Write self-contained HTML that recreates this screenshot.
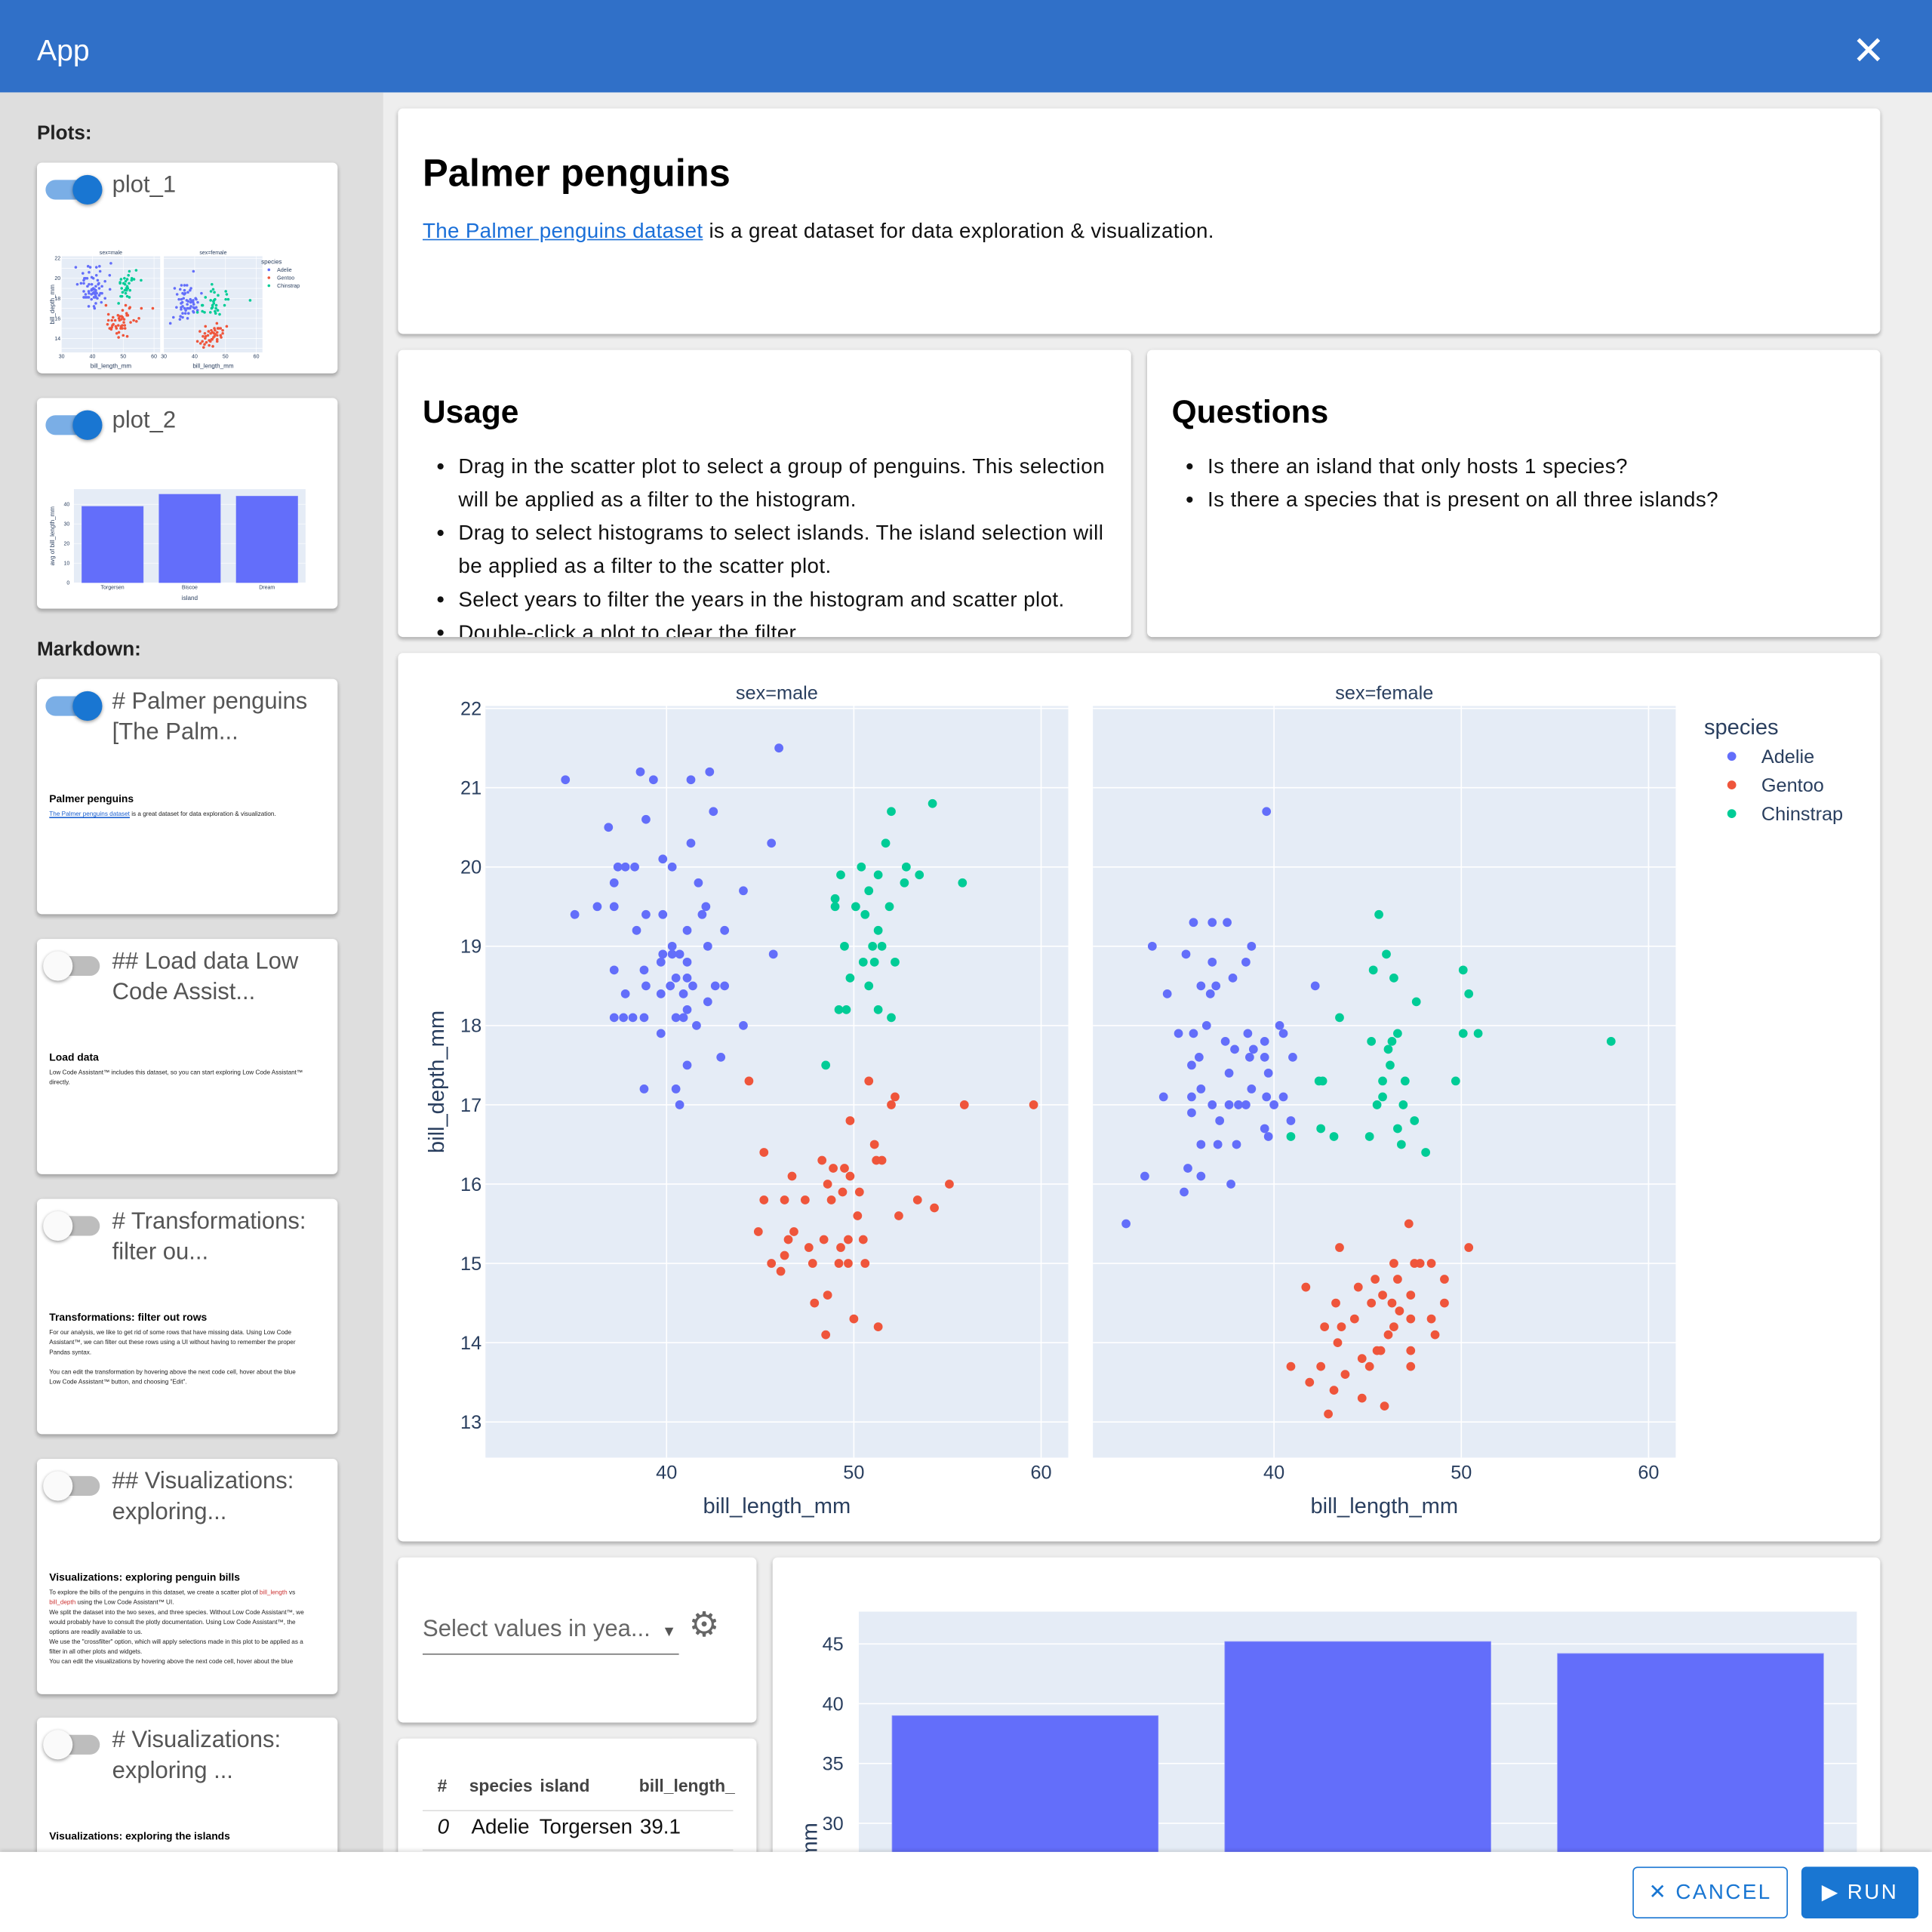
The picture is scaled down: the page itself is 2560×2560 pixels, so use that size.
<!DOCTYPE html>
<html><head><meta charset="utf-8">
<style>
html,body{margin:0;padding:0;width:2560px;height:2560px;overflow:hidden;background:#eee;}
#root{position:absolute;left:0;top:0;width:1568px;height:1568px;transform:scale(1.632653);transform-origin:0 0;font-family:"Liberation Sans",sans-serif;background:#eeeeee;overflow:hidden;}
.abs{position:absolute;}
.card{position:absolute;background:#fff;border-radius:4px;box-shadow:0 2px 3px rgba(0,0,0,0.2),0 1px 4px rgba(0,0,0,0.1);overflow:hidden;}
.tg{position:absolute;left:7px;top:14px;width:44px;height:16px;border-radius:8px;}
.tg.on{background:#7aaee6;}
.tg.off{background:#bdbdbd;}
.knob{position:absolute;top:-4px;width:24px;height:24px;border-radius:50%;box-shadow:0 1px 3px rgba(0,0,0,0.4);}
.on .knob{left:22px;background:#1976d2;}
.off .knob{left:-2px;background:#fafafa;}
.ttl{position:absolute;left:61px;top:6px;font-size:19px;color:#555;line-height:25px;width:175px;}
.mdh{position:absolute;left:10px;font-size:8.5px;font-weight:bold;color:#000;}
.mdp{position:absolute;left:10px;font-size:5px;color:#222;width:210px;line-height:8px;}
.side{position:absolute;left:0;top:75px;width:311px;height:1430px;background:#dedede;}
h1,h2{margin:0;}
ul{margin:0;padding-left:29px;}
li{font-size:17px;line-height:27px;color:#111;letter-spacing:0.25px;}
</style></head><body>
<div id="root">
<div class="abs" style="left:0;top:0;width:1568px;height:75px;background:#3070c8;">
 <div class="abs" style="left:30px;top:28px;color:#fff;font-size:24px;">App</div>
 <div class="abs" style="left:1503px;top:21px;color:#fff;font-size:32px;line-height:40px;">✕</div>
</div>
<div class="side">
 <div class="abs" style="left:30px;top:25px;font-size:16px;font-weight:bold;color:#222;">Plots:</div>
 <div class="card" style="left:30px;top:57px;width:244px;height:171px;">
  <div class="tg on"><div class="knob"></div></div>
  <div class="ttl">plot_1</div>
  <svg id="mini1" class="abs" style="left:0;top:0" width="244" height="171"></svg>
 </div>
 <div class="card" style="left:30px;top:248px;width:244px;height:171px;">
  <div class="tg on"><div class="knob"></div></div>
  <div class="ttl">plot_2</div>
  <svg id="mini2" class="abs" style="left:0;top:0" width="244" height="171"></svg>
 </div>
 <div class="abs" style="left:30px;top:444px;font-size:16px;font-weight:bold;color:#222;">Markdown:</div>
 <div class="card" style="left:30px;top:476px;width:244px;height:191px;">
  <div class="tg on"><div class="knob"></div></div>
  <div class="ttl"># Palmer penguins [The Palm...</div>
  <div class="mdh" style="top:92px">Palmer penguins</div>
  <div class="mdp" style="top:106px"><span style="color:#1a5fd0;text-decoration:underline">The Palmer penguins dataset</span> is a great dataset for data exploration &amp; visualization.</div>
 </div>
 <div class="card" style="left:30px;top:687px;width:244px;height:191px;">
  <div class="tg off"><div class="knob"></div></div>
  <div class="ttl">## Load data Low Code Assist...</div>
  <div class="mdh" style="top:91px">Load data</div>
  <div class="mdp" style="top:105px">Low Code Assistant™ includes this dataset, so you can start exploring Low Code Assistant™ directly.</div>
 </div>
 <div class="card" style="left:30px;top:898px;width:244px;height:191px;">
  <div class="tg off"><div class="knob"></div></div>
  <div class="ttl"># Transformations: filter ou...</div>
  <div class="mdh" style="top:91px">Transformations: filter out rows</div>
  <div class="mdp" style="top:105px">For our analysis, we like to get rid of some rows that have missing data. Using Low Code Assistant™, we can filter out these rows using a UI without having to remember the proper Pandas syntax.<br><br>You can edit the transformation by hovering above the next code cell, hover about the blue Low Code Assistant™ button, and choosing "Edit".</div>
 </div>
 <div class="card" style="left:30px;top:1109px;width:244px;height:191px;">
  <div class="tg off"><div class="knob"></div></div>
  <div class="ttl">## Visualizations: exploring...</div>
  <div class="mdh" style="top:91px">Visualizations: exploring penguin bills</div>
  <div class="mdp" style="top:105px">To explore the bills of the penguins in this dataset, we create a scatter plot of <span style="color:#c33">bill_length</span> vs <span style="color:#c33">bill_depth</span> using the Low Code Assistant™ UI.<br>We split the dataset into the two sexes, and three species. Without Low Code Assistant™, we would probably have to consult the plotly documentation. Using Low Code Assistant™, the options are readily available to us.<br>We use the "crossfilter" option, which will apply selections made in this plot to be applied as a filter in all other plots and widgets.<br>You can edit the visualizations by hovering above the next code cell, hover about the blue</div>
 </div>
 <div class="card" style="left:30px;top:1319px;width:244px;height:191px;">
  <div class="tg off"><div class="knob"></div></div>
  <div class="ttl"># Visualizations: exploring ...</div>
  <div class="mdh" style="top:91px">Visualizations: exploring the islands</div>
 </div>
</div>

<div class="card" style="left:323px;top:88px;width:1203px;height:183px;">
 <h1 style="position:absolute;left:20px;top:35px;font-size:31px;color:#000;">Palmer penguins</h1>
 <div class="abs" style="left:20px;top:90px;font-size:17px;color:#111;letter-spacing:0.2px;"><span style="color:#1a6fd8;text-decoration:underline;">The Palmer penguins dataset</span> is a great dataset for data exploration &amp; visualization.</div>
</div>
<div class="card" style="left:323px;top:284px;width:595px;height:233px;">
 <h2 style="position:absolute;left:20px;top:35px;font-size:26px;">Usage</h2>
 <ul class="abs" style="left:20px;top:81px;width:545px;">
  <li>Drag in the scatter plot to select a group of penguins. This selection will be applied as a filter to the histogram.</li>
  <li>Drag to select histograms to select islands. The island selection will be applied as a filter to the scatter plot.</li>
  <li>Select years to filter the years in the histogram and scatter plot.</li>
  <li>Double-click a plot to clear the filter.</li>
 </ul>
</div>
<div class="card" style="left:931px;top:284px;width:595px;height:233px;">
 <h2 style="position:absolute;left:20px;top:35px;font-size:26px;">Questions</h2>
 <ul class="abs" style="left:20px;top:81px;width:545px;">
  <li>Is there an island that only hosts 1 species?</li>
  <li>Is there a species that is present on all three islands?</li>
 </ul>
</div>
<div class="card" style="left:323px;top:530px;width:1203px;height:721px;">
 <svg id="scatter" width="1203" height="721" style="position:absolute;left:0;top:0"></svg>
</div>
<div class="card" style="left:323px;top:1264px;width:291px;height:134px;">
 <div class="abs" style="left:20px;top:48px;width:208px;height:30px;border-bottom:1px solid #777;font-size:19px;color:#666;">Select values in yea... <span style="font-size:12px;color:#555;margin-left:4px">▼</span></div>
 <div class="abs" style="left:236px;top:38px;font-size:28px;color:#666;">⚙</div>
</div>
<div class="card" style="left:323px;top:1411px;width:291px;height:120px;">
 <div class="abs" style="left:20px;top:30px;width:252px;height:28px;border-bottom:1px solid #ddd;font-size:14px;font-weight:bold;color:#444;white-space:nowrap;"><span style="margin-left:12px">#</span><span style="margin-left:18px">species</span><span style="margin-left:6px">island</span><span style="margin-left:40px">bill_length_</span></div>
 <div class="abs" style="left:20px;top:62px;width:252px;height:28px;border-bottom:1px solid #ddd;font-size:17px;color:#111;white-space:nowrap;"><i style="margin-left:12px">0</i><span style="margin-left:18px">Adelie</span><span style="margin-left:8px">Torgersen</span><span style="margin-left:6px">39.1</span></div>
</div>
<div class="card" style="left:627px;top:1264px;width:899px;height:280px;">
 <svg id="bar" width="899" height="280" style="position:absolute;left:0;top:0"></svg>
</div>
<div class="abs" style="left:0;top:1503px;width:1568px;height:65px;background:#fff;box-shadow:0 -1px 3px rgba(0,0,0,0.15);">
 <div class="abs" style="left:1325px;top:12px;width:124px;height:40px;border:1px solid #1976d2;border-radius:4px;color:#1976d2;font-size:17px;letter-spacing:1.5px;line-height:40px;text-align:center;">✕ CANCEL</div>
 <div class="abs" style="left:1462px;top:12px;width:95px;height:42px;background:#1976d2;border-radius:4px;color:#fff;font-size:17px;letter-spacing:1.5px;line-height:42px;text-align:center;">▶ RUN</div>
</div>
</div>
<script>
// ---- data ----
const species=["Adelie","Gentoo","Chinstrap"];
const speciesColors=["#636efa","#EF553B","#00cc96"];
const xTicks=[40,50,60];
const yTicks=[13,14,15,16,17,18,19,20,21,22];
const maleAdelieX=[34.6,38.6,39.3,42.3,41.3,46.0,42.5,38.9,36.9,41.3,45.6,39.8,37.4,37.8,38.3,40.3,37.2,41.7,44.1,35.1,36.3,37.2,42.1,41.9,38.9,39.8,38.4,41.1,43.1,42.2,40.3,39.8,40.3,40.7,45.7,39.7,41.1,37.2,38.8,40.5,41.1,38.9,40.2,41.4,42.6,43.1,37.8,39.7,40.9,42.2,41.1,38.8,37.2,37.7,38.2,40.5,40.9,41.6,44.1,39.7,42.9,41.1,38.8,40.5,40.7];
const maleAdelieY=[21.1,21.2,21.1,21.2,21.1,21.5,20.7,20.6,20.5,20.3,20.3,20.1,20.0,20.0,20.0,20.0,19.8,19.8,19.7,19.4,19.5,19.5,19.5,19.4,19.4,19.4,19.2,19.2,19.2,19.0,19.0,18.9,18.9,18.9,18.9,18.8,18.8,18.7,18.7,18.6,18.6,18.5,18.5,18.5,18.5,18.5,18.4,18.4,18.4,18.3,18.2,18.1,18.1,18.1,18.1,18.1,18.1,18.0,18.0,17.9,17.6,17.5,17.2,17.2,17.0];
const maleGentooX=[44.4,50.8,52.2,52.0,55.9,59.6,49.8,45.2,51.1,48.3,51.2,51.5,46.7,48.9,49.5,48.6,49.8,49.4,50.3,55.1,47.4,48.8,53.4,45.2,46.3,54.3,50.2,52.4,44.9,46.8,46.5,48.4,49.7,50.5,47.6,49.3,46.3,45.6,47.8,49.2,49.7,50.6,46.1,48.6,47.9,50.0,51.3,48.5];
const maleGentooY=[17.3,17.3,17.1,17.0,17.0,17.0,16.8,16.4,16.5,16.3,16.3,16.3,16.1,16.2,16.2,16.0,16.1,15.9,15.9,16.0,15.8,15.8,15.8,15.8,15.8,15.7,15.6,15.6,15.4,15.4,15.3,15.3,15.3,15.3,15.2,15.2,15.1,15.0,15.0,15.0,15.0,15.0,14.9,14.6,14.5,14.3,14.2,14.1];
const maleChinX=[54.2,52.0,51.7,50.4,52.8,49.3,51.3,53.5,52.7,55.8,50.8,49.0,50.1,51.9,50.6,49.0,51.3,49.5,51.0,51.5,50.5,51.1,52.2,49.8,50.8,49.2,49.6,51.3,52.0,48.5];
const maleChinY=[20.8,20.7,20.3,20.0,20.0,19.9,19.9,19.9,19.8,19.8,19.7,19.6,19.5,19.5,19.4,19.5,19.2,19.0,19.0,19.0,18.8,18.8,18.8,18.6,18.5,18.2,18.2,18.2,18.1,17.5];
const femAdelieX=[39.6,35.7,36.7,37.5,33.5,35.3,38.8,36.7,38.5,37.8,36.9,36.1,42.2,34.3,36.6,36.4,34.9,35.7,37.4,38.6,40.3,40.5,37.9,38.9,39.5,39.5,41.0,38.7,36.0,35.6,37.6,39.7,36.1,34.1,35.6,38.8,39.6,40.5,36.7,37.6,38.1,38.5,40.0,35.6,37.1,39.5,40.9,39.7,36.1,37.0,38.0,35.4,33.1,36.1,37.7,35.2,32.1];
const femAdelieY=[20.7,19.3,19.3,19.3,19.0,18.9,19.0,18.8,18.8,18.6,18.5,18.5,18.5,18.4,18.4,18.0,17.9,17.9,17.8,17.9,18.0,17.9,17.7,17.7,17.8,17.6,17.6,17.6,17.6,17.5,17.4,17.4,17.2,17.1,17.1,17.2,17.1,17.1,17.0,17.0,17.0,17.0,17.0,16.9,16.8,16.7,16.8,16.6,16.5,16.5,16.5,16.2,16.1,16.1,16.0,15.9,15.5];
const femGentooX=[47.2,43.5,50.4,46.4,47.5,47.8,48.4,49.1,45.4,46.6,41.7,44.5,45.8,47.3,45.2,46.3,49.1,43.3,46.7,44.3,48.4,42.7,43.6,46.4,47.3,46.1,48.6,43.4,45.5,47.3,44.7,45.7,40.9,42.5,45.1,47.3,43.8,41.9,43.2,44.7,45.9,42.9];
const femGentooY=[15.5,15.2,15.2,15.0,15.0,15.0,15.0,14.8,14.8,14.8,14.7,14.7,14.6,14.6,14.5,14.5,14.5,14.5,14.4,14.3,14.3,14.2,14.2,14.2,14.3,14.1,14.1,14.0,13.9,13.9,13.8,13.9,13.7,13.7,13.7,13.7,13.6,13.5,13.4,13.3,13.2,13.1];
const femChinX=[45.6,46.0,45.3,50.1,46.4,50.4,47.6,43.5,46.6,50.1,50.9,45.2,46.3,46.1,58.0,46.2,42.4,42.6,45.8,47.0,49.7,45.8,45.5,46.9,42.5,47.5,40.9,43.2,45.1,46.6,46.8,48.1];
const femChinY=[19.4,18.9,18.7,18.7,18.6,18.4,18.3,18.1,17.9,17.9,17.9,17.8,17.8,17.7,17.8,17.5,17.3,17.3,17.3,17.3,17.3,17.1,17.0,17.0,16.7,16.8,16.6,16.6,16.6,16.7,16.5,16.4];
const islands=["Torgersen","Biscoe","Dream"];
const avgBillLength=[39.0,45.2,44.2];
const barTicks=[30,35,40,45];
const miniBarTicks=[0,10,20,30,40];

const NS="http://www.w3.org/2000/svg";
function el(parent,tag,attrs,text){const e=document.createElementNS(NS,tag);for(const k in attrs)e.setAttribute(k,attrs[k]);if(text!==undefined)e.textContent=text;parent.appendChild(e);return e;}
const FONT='"Liberation Sans",sans-serif';

function drawScatter(svg,o){
  const seriesM=[[maleAdelieX,maleAdelieY],[maleGentooX,maleGentooY],[maleChinX,maleChinY]];
  const seriesF=[[femAdelieX,femAdelieY],[femGentooX,femGentooY],[femChinX,femChinY]];
  const panels=[{x0:o.p[0][0],x1:o.p[0][1],s:seriesM,t:"sex=male"},{x0:o.p[1][0],x1:o.p[1][1],s:seriesF,t:"sex=female"}];
  const ys=v=>o.yTop+(o.yDom[1]-v)/(o.yDom[1]-o.yDom[0])*(o.yBot-o.yTop);
  panels.forEach((P,pi)=>{
    const xs=v=>P.x0+(v-o.xDom[0])/(o.xDom[1]-o.xDom[0])*(P.x1-P.x0);
    const bg=el(svg,'rect',{x:P.x0,y:o.yTop,width:P.x1-P.x0,height:o.yBot-o.yTop,fill:'#e5ecf6'});
    
    
    yTicks.forEach(t=>{if(t<o.yDom[0]||t>o.yDom[1])return;
      el(svg,'line',{x1:P.x0,x2:P.x1,y1:ys(t),y2:ys(t),stroke:'#fff','stroke-width':o.gw});
      if(pi===0&&(o.full||t%2===0)){const tl=el(svg,'text',{x:P.x0-o.fs*0.2,y:ys(t)+o.fs*0.35,'text-anchor':'end','font-size':o.fs,fill:'#2a3f5f','font-family':FONT},t);
        
        }});
    (o.full?xTicks:[30,40,50,60]).forEach(t=>{
      if(t>o.xDom[0])el(svg,'line',{x1:xs(t),x2:xs(t),y1:o.yTop,y2:o.yBot,stroke:'#fff','stroke-width':o.gw});
      const xl=el(svg,'text',{x:xs(t),y:o.yBot+o.fs*1.1,'text-anchor':'middle','font-size':o.fs,fill:'#2a3f5f','font-family':FONT},t);
      
      });
    const st=el(svg,'text',{x:(P.x0+P.x1)/2,y:o.yTop-o.fs*0.35,'text-anchor':'middle','font-size':o.fs,fill:'#2a3f5f','font-family':FONT},P.t);
    
    
    const xt=el(svg,'text',{x:(P.x0+P.x1)/2,y:o.yBot+o.fs*2.9,'text-anchor':'middle','font-size':o.fs*1.15,fill:'#2a3f5f','font-family':FONT},'bill_length_mm');
    
    
    P.s.forEach((sr,si)=>{sr[0].forEach((xv,i)=>{
      const c=el(svg,'circle',{cx:xs(xv),cy:ys(sr[1][i]),r:o.r,fill:speciesColors[si]});
      
      });});
  });
  const yt=el(svg,'text',{x:0,y:0,transform:`translate(${o.ytx},${(o.yTop+o.yBot)/2}) rotate(-90)`,'text-anchor':'middle','font-size':o.fs*1.15,fill:'#2a3f5f','font-family':FONT},'bill_depth_mm');
  
  
  const lg=el(svg,'text',{x:o.lx,y:o.ly,'font-size':o.fs*1.15,fill:'#2a3f5f','font-family':FONT},'species');
  
  
  species.forEach((s,i)=>{
    const yy=o.ly+o.fs*1.5*(i+1);
    const d=el(svg,'circle',{cx:o.lx+o.fs*1.45,cy:yy-o.fs*0.35,r:o.r,fill:speciesColors[i]});
    
    
    const t=el(svg,'text',{x:o.lx+o.fs*3.0,y:yy,'font-size':o.fs,fill:'#2a3f5f','font-family':FONT},s);
    
    
  });
}
drawScatter(document.getElementById('scatter'),{p:[[71,544],[564,1037]],yTop:43,yBot:653,xDom:[30.33,61.45],yDom:[12.55,22.03],r:3.6,fs:15.5,gw:1,full:true,ytx:37,lx:1060,ly:66});
drawScatter(document.getElementById('mini1'),{p:[[20,100],[103,183]],yTop:76,yBot:154,xDom:[30,62],yDom:[12.6,22.2],r:1.1,fs:4.3,gw:0.4,full:false,ytx:14,lx:182,ly:82});

function drawBar(svg,o){
  const ys=v=>o.yBot-(v-o.yDom[0])/(o.yDom[1]-o.yDom[0])*(o.yBot-o.yTop);
  const bg=el(svg,'rect',{x:o.x0,y:o.yTop,width:o.x1-o.x0,height:o.yBot-o.yTop,fill:'#e5ecf6'});
  
  
  o.ticks.forEach(t=>{el(svg,'line',{x1:o.x0,x2:o.x1,y1:ys(t),y2:ys(t),stroke:'#fff','stroke-width':o.gw});
    const tl=el(svg,'text',{x:o.x0-o.fs*0.8,y:ys(t)+o.fs*0.35,'text-anchor':'end','font-size':o.fs,fill:'#2a3f5f','font-family':FONT},t);
    
    });
  const band=(o.x1-o.x0)/islands.length;
  islands.forEach((isl,i)=>{
    const b=el(svg,'rect',{x:o.x0+band*i+band*0.1,y:ys(avgBillLength[i]),width:band*0.8,height:ys(o.yDom[0])-ys(avgBillLength[i]),fill:'#636efa',stroke:'#8f96fb','stroke-width':o.gw*0.5});
    
    
    if(o.labels){const l=el(svg,'text',{x:o.x0+band*(i+0.5),y:o.yBot+o.fs*1.2,'text-anchor':'middle','font-size':o.fs,fill:'#2a3f5f','font-family':FONT},isl);
      
      }
  });
  const yt=el(svg,'text',{x:0,y:0,transform:`translate(${o.ytx},${o.yty}) rotate(-90)`,'text-anchor':'middle','font-size':o.fs*1.15,fill:'#2a3f5f','font-family':FONT},o.ytitle);
  
  
}
drawBar(document.getElementById('bar'),{x0:70,x1:880,yTop:44,yBot:600,yDom:[-9.6,47.7],ticks:barTicks,fs:15.5,gw:1,labels:false,ytx:36,yty:300,ytitle:'avg of bill_depth_mm'});
drawBar(document.getElementById('mini2'),{x0:30,x1:218,yTop:74,yBot:150,yDom:[0,47.7],ticks:miniBarTicks,fs:4.3,gw:0.4,labels:true,ytx:14,yty:112,ytitle:'avg of bill_length_mm'});
const il=el(document.getElementById('mini2'),'text',{x:124,y:164,'text-anchor':'middle','font-size':5,fill:'#2a3f5f','font-family':FONT},'island');


</script>
</body></html>
